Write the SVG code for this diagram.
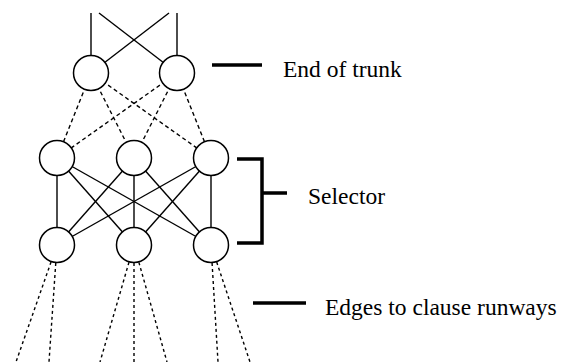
<svg xmlns="http://www.w3.org/2000/svg" width="563" height="362" viewBox="0 0 563 362">
<style>
.solid{stroke:#000;stroke-width:1.4;fill:none}
.dash{stroke:#000;stroke-width:1.4;fill:none;stroke-dasharray:4 3}
.dot{stroke:#000;stroke-width:1.4;fill:none;stroke-dasharray:3 3}
.node{fill:#fff;stroke:#000;stroke-width:1.5}
.mark{stroke:#000;stroke-width:3.5;fill:none}
.lbl{font-family:"Liberation Serif","Times New Roman",serif;font-size:23.5px;fill:#000}
</style>
<rect width="563" height="362" fill="#fff"/>
<g id="connectors">
<line class="solid" x1="91" y1="13" x2="91" y2="73"/>
<line class="solid" x1="177" y1="13" x2="177" y2="73"/>
<line class="solid" x1="99" y1="13" x2="177" y2="73"/>
<line class="solid" x1="169" y1="13" x2="91" y2="73"/>
<line class="dash" x1="91" y1="73" x2="57" y2="158"/>
<line class="dash" x1="91" y1="73" x2="134" y2="158"/>
<line class="dash" x1="91" y1="73" x2="211" y2="158"/>
<line class="dash" x1="177" y1="73" x2="57" y2="158"/>
<line class="dash" x1="177" y1="73" x2="134" y2="158"/>
<line class="dash" x1="177" y1="73" x2="211" y2="158"/>
<line class="solid" x1="57" y1="158" x2="57" y2="245"/>
<line class="solid" x1="57" y1="158" x2="134" y2="245"/>
<line class="solid" x1="57" y1="158" x2="211" y2="245"/>
<line class="solid" x1="134" y1="158" x2="57" y2="245"/>
<line class="solid" x1="134" y1="158" x2="134" y2="245"/>
<line class="solid" x1="134" y1="158" x2="211" y2="245"/>
<line class="solid" x1="211" y1="158" x2="57" y2="245"/>
<line class="solid" x1="211" y1="158" x2="134" y2="245"/>
<line class="solid" x1="211" y1="158" x2="211" y2="245"/>
<line class="dot" x1="57" y1="245" x2="16" y2="362"/>
<line class="dot" x1="57" y1="245" x2="49" y2="362"/>
<line class="dot" x1="134" y1="245" x2="100" y2="362"/>
<line class="dot" x1="134" y1="245" x2="134" y2="362"/>
<line class="dot" x1="134" y1="245" x2="167" y2="362"/>
<line class="dot" x1="211" y1="245" x2="218" y2="362"/>
<line class="dot" x1="211" y1="245" x2="250" y2="362"/>
</g>
<g id="t1"><circle class="node" cx="91" cy="73" r="17.5"/></g>
<g id="t2"><circle class="node" cx="177" cy="73" r="17.5"/></g>
<g id="m1"><circle class="node" cx="57" cy="158" r="17.5"/></g>
<g id="m2"><circle class="node" cx="134" cy="158" r="17.5"/></g>
<g id="m3"><circle class="node" cx="211" cy="158" r="17.5"/></g>
<g id="b1"><circle class="node" cx="57" cy="245" r="17.5"/></g>
<g id="b2"><circle class="node" cx="134" cy="245" r="17.5"/></g>
<g id="b3"><circle class="node" cx="211" cy="245" r="17.5"/></g>
<g id="label-trunk">
<line class="mark" x1="212" y1="65" x2="262" y2="65"/>
<text class="lbl" x="283" y="77">End of trunk</text>
</g>
<g id="label-selector">
<path class="mark" d="M237 159 H262 V243 H237 M262 193 H287"/>
<text class="lbl" x="308" y="204">Selector</text>
</g>
<g id="label-edges">
<line class="mark" x1="253" y1="303" x2="306" y2="303"/>
<text class="lbl" x="325" y="315">Edges to clause runways</text>
</g>
</svg>
